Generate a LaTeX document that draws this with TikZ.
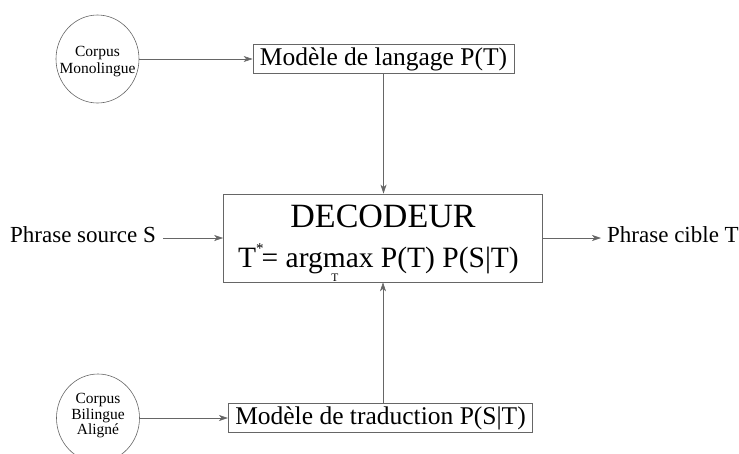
\documentclass[tikz,border=0pt]{standalone}
\usepackage{fontspec}
\setmainfont{Liberation Serif}
\usetikzlibrary{shapes.geometric,arrows.meta,calc}
\begin{document}
\begin{tikzpicture}[x=1pt,y=-1pt,
  line/.style={draw=black!60,line width=0.6pt},
  arr/.style={line,-{Stealth[length=9pt,width=6pt,inset=2.5pt]}},
  corpus/.style={ellipse,draw=black!60,line width=0.6pt,minimum width=83pt,minimum height=88pt,inner sep=0pt},
  corpustext/.style={inner sep=0pt,align=center,font=\fontsize{15.5}{15.5}\selectfont},
  modbox/.style={rectangle,draw=black!60,line width=0.6pt,minimum height=29pt,inner xsep=7pt,inner ysep=0pt,font=\fontsize{25.5}{28}\selectfont},
  lbl/.style={inner sep=0pt,font=\fontsize{23}{25}\selectfont}]
\useasboundingbox (0,0) rectangle (739,453);
\clip (0,0) rectangle (739,453);

\node[corpus] (c1) at (97.5,59) {};
\node[corpustext,font=\fontsize{15.5}{17}\selectfont] (c1t) at ($(c1.center)+(0,3)$) {Corpus\\Monolingue};
\node[modbox] (m1) at (383.5,59) {Modèle de langage P(T)};

\node[rectangle,line,minimum width=319pt,minimum height=88pt] (dec) at (383,238) {};
\node[inner sep=0pt,font=\fontsize{34}{36}\selectfont] (dtitle) at (383,216) {DECODEUR};
\node[inner sep=0pt,anchor=base,font=\fontsize{29.5}{32}\selectfont] (formula) at (378.5,267)
  {T\raisebox{0.45em}{\fontsize{15}{15}\selectfont *}\hspace{-2pt}= argmax P(T) P(S|T)};
\node[inner sep=0pt,font=\fontsize{11.5}{11.5}\selectfont] (sub) at (335,278) {T};

\node[lbl,anchor=base east] (src) at (156,242) {Phrase source S};
\node[lbl,anchor=base west] (dst) at (607,242) {Phrase cible T};

\node[corpus] (c2) at (98,418) {};
\node[corpustext] (c2t) at ($(c2.center)+(0,-2)$) {Corpus\\Bilingue\\Aligné};
\node[modbox] (m2) at (380.5,418) {Modèle de traduction P(S|T)};

\draw[arr] (c1.east) -- (m1.west);
\draw[arr] (m1.south) -- (m1.south |- dec.north);
\draw[arr] ($(dec.west -| src.east)+(7,0)$) -- (dec.west);
\draw[arr] (dec.east) -- ($(dec.east -| dst.west)+(-6,0)$);
\draw[arr] (dec.south |- m2.north) -- (dec.south);
\draw[arr] (c2.east) -- (m2.west);
\end{tikzpicture}
\end{document}
